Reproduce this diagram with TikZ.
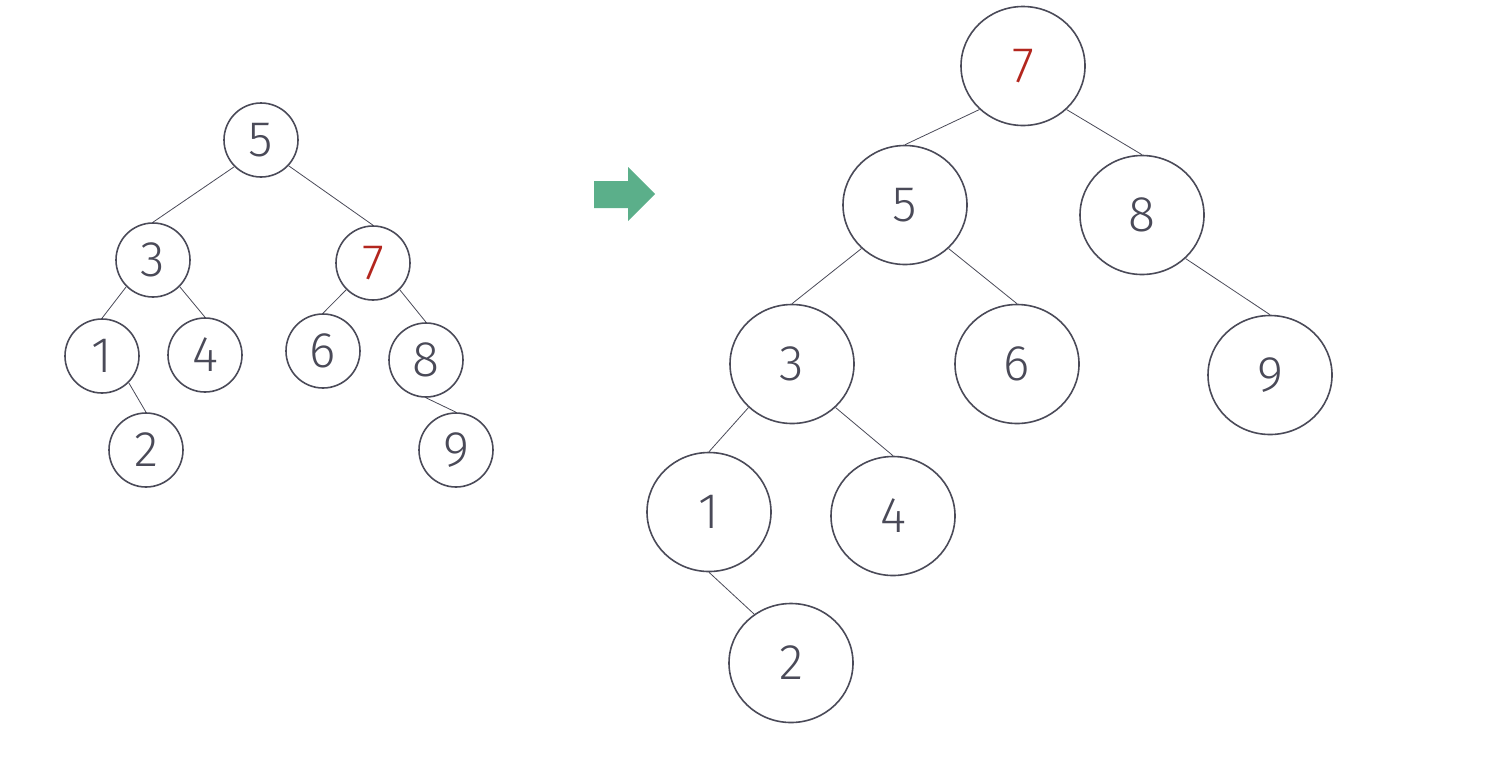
\documentclass[tikz,border=0pt]{standalone}
\usepackage{fontspec}
\setmainfont{Fira Sans Light}
\usetikzlibrary{shapes.geometric}
\definecolor{ink}{HTML}{4A4A58}
\definecolor{redd}{HTML}{B3261E}
\definecolor{arrowgreen}{HTML}{5BAF8A}
\tikzset{
  small/.style={circle, draw=ink, line width=1.6pt, minimum size=74pt, inner sep=0pt, text=ink, font=\fontsize{50}{50}\selectfont},
  big/.style={ellipse, draw=ink, line width=1.6pt, minimum width=124pt, minimum height=119pt, inner sep=0pt, text=ink, font=\fontsize{50}{50}\selectfont},
  edge/.style={draw=ink, line width=0.8pt},
  hl/.style={text=redd}
}
\begin{document}
\begin{tikzpicture}[x=1pt,y=-1pt]
\useasboundingbox (0,0) rectangle (1490,780);
% left tree
\node[small] (a5) at (261,140) {5};
\node[small] (a3) at (153,260) {3};
\node[small,hl] (a7) at (373,263) {7};
\node[small] (a1) at (102,356) {1};
\node[small] (a4) at (205,355) {4};
\node[small] (a6) at (323,351) {6};
\node[small] (a8) at (426,360) {8};
\node[small] (a2) at (146,450) {2};
\node[small] (a9) at (456,450) {9};
\draw[edge] (a5.225) -- (a3.north);
\draw[edge] (a5.317) -- (a7.north);
\draw[edge] (a3.225) -- (a1.north);
\draw[edge] (a3.315) -- (a4.north);
\draw[edge] (a7.225) -- (a6.north);
\draw[edge] (a7.315) -- (a8.north);
\draw[edge] (a1.315) -- (a2.north);
\draw[edge] (a8.south) -- (a9.north);
% arrow
\fill[arrowgreen] (594,181) -- (628,181) -- (628,167) -- (655,194) -- (628,221) -- (628,208) -- (594,208) -- cycle;
% right tree
\node[big,hl] (b7) at (1023,66) {7};
\node[big] (b5) at (905,205) {5};
\node[big] (b8) at (1142,215) {8};
\node[big] (b3) at (792,364) {3};
\node[big] (b6) at (1017,364) {6};
\node[big] (b9) at (1270,375) {9};
\node[big] (b1) at (709,512) {1};
\node[big] (b4) at (893,516) {4};
\node[big] (b2) at (791,663) {2};
\draw[edge] (b7.225) -- (b5.north);
\draw[edge] (b7.315) -- (b8.north);
\draw[edge] (b5.225) -- (b3.north);
\draw[edge] (b5.315) -- (b6.north);
\draw[edge] (b8.315) -- (b9.north);
\draw[edge] (b3.225) -- (b1.north);
\draw[edge] (b3.315) -- (b4.north);
\draw[edge] (b1.south) -- (b2.127);
\end{tikzpicture}
\end{document}
